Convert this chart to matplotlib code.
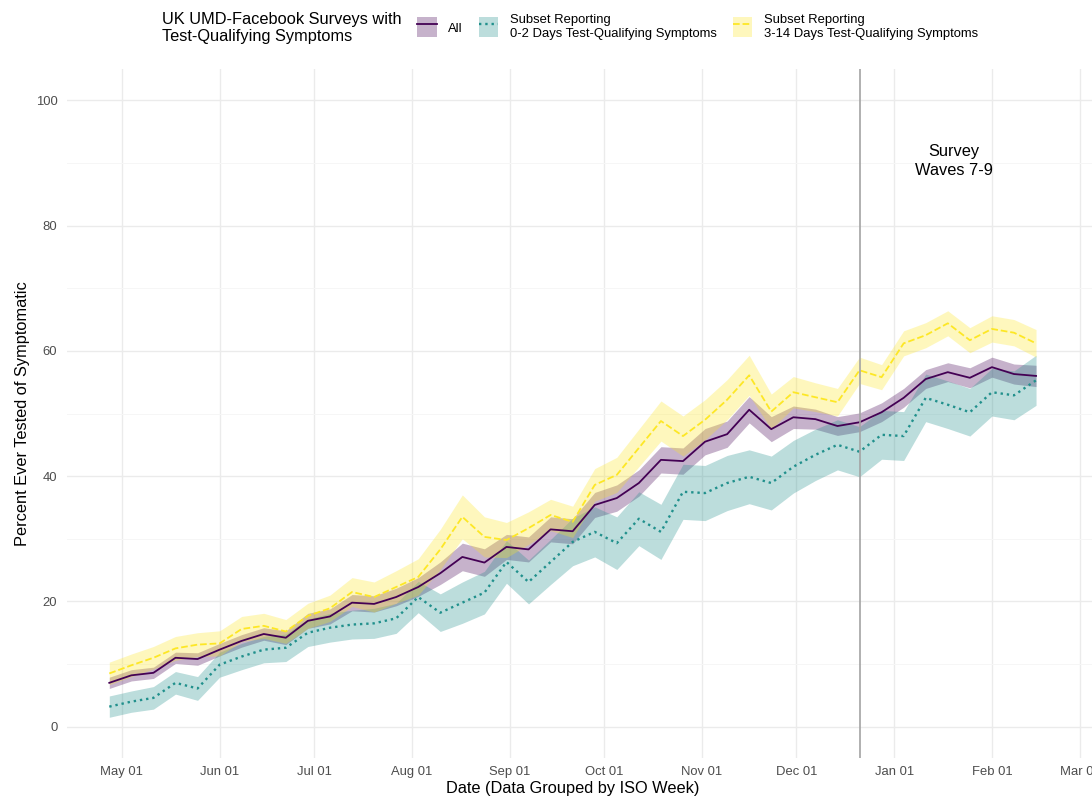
import pandas as pd
import matplotlib
matplotlib.use('Agg')
import matplotlib.pyplot as plt
import matplotlib.dates as mdates
from matplotlib.lines import Line2D
from matplotlib.patches import Patch
from matplotlib.ticker import MultipleLocator

plt.rcParams['font.family'] = ['Liberation Sans', 'DejaVu Sans']

# ISO weeks (Monday start), Apr 27 2020 -> Feb 15 2021
weeks = pd.date_range('2020-04-27', '2021-02-15', freq='7D')

# percent ever tested, all respondents
all_pct = [7.0, 8.2, 8.6, 11.0, 10.8, 12.3, 13.7, 14.8, 14.2, 16.9, 17.6,
           19.8, 19.6, 20.7, 22.3, 24.5, 27.1, 26.2, 28.7, 28.3, 31.5, 31.2,
           35.4, 36.5, 38.9, 42.6, 42.4, 45.5, 46.7, 50.6, 47.5, 49.4, 49.1,
           48.0, 48.6, 50.2, 52.5, 55.5, 56.6, 55.7, 57.4, 56.3, 56.0]
all_hw = [0.9, 0.9, 0.9, 0.9, 1.0, 1.0, 1.0, 1.0, 1.1, 1.2, 1.2, 1.3, 1.3,
          1.4, 1.5, 1.8, 2.2, 2.2, 2.0, 2.0, 2.0, 2.0, 2.0, 2.1, 2.1, 2.1,
          2.1, 2.1, 2.1, 2.1, 2.0, 1.8, 1.6, 1.5, 1.5, 1.5, 1.5, 1.5, 1.5,
          1.6, 1.6, 1.6, 1.7]

# subset with 0-2 days of symptoms
early_pct = [3.2, 4.0, 4.6, 7.0, 6.1, 9.9, 11.2, 12.3, 12.6, 15.0, 15.8,
             16.3, 16.5, 17.3, 20.7, 18.2, 19.8, 21.4, 26.3, 23.1, 26.3, 29.5,
             31.1, 29.3, 33.2, 31.1, 37.5, 37.3, 38.9, 39.9, 38.9, 41.5, 43.4,
             45.0, 43.9, 46.6, 46.4, 52.5, 51.4, 50.2, 53.4, 52.9, 55.3]
early_hw = [1.7, 1.7, 1.8, 1.8, 1.9, 2.0, 2.1, 2.1, 2.2, 2.2, 2.3, 2.3, 2.4,
            2.4, 2.5, 3.0, 3.3, 3.4, 3.4, 3.5, 3.6, 3.8, 4.0, 4.2, 4.3, 4.4,
            4.4, 4.4, 4.4, 4.3, 4.3, 4.2, 4.1, 4.0, 4.0, 3.9, 3.9, 3.8, 3.8,
            3.8, 3.8, 3.9, 4.0]

# subset with 3-14 days of symptoms
late_pct = [8.5, 9.8, 11.0, 12.5, 13.1, 13.3, 15.6, 16.1, 15.2, 17.7, 18.9,
            21.5, 20.7, 22.3, 23.9, 28.3, 33.5, 30.3, 29.8, 31.7, 33.8, 32.7,
            38.6, 40.2, 44.5, 48.8, 46.4, 49.0, 52.2, 56.1, 50.3, 53.4, 52.6,
            51.8, 56.9, 55.8, 61.2, 62.5, 64.4, 61.7, 63.5, 62.9, 61.2]
late_hw = [1.8, 1.8, 1.8, 1.9, 1.9, 2.0, 2.0, 2.0, 1.9, 2.0, 2.1, 2.3, 2.4,
           2.6, 2.9, 3.2, 3.5, 3.2, 2.8, 2.6, 2.5, 2.5, 2.6, 2.8, 3.0, 3.2,
           3.2, 3.2, 3.2, 3.2, 2.8, 2.5, 2.3, 2.2, 2.1, 2.0, 2.0, 2.0, 2.0,
           2.0, 2.1, 2.1, 2.2]

wave_start = pd.Timestamp('2020-12-21')

labels = ['All',
          'Subset Reporting\n0-2 Days Test-Qualifying Symptoms',
          'Subset Reporting\n3-14 Days Test-Qualifying Symptoms']
colors = ['#440154', '#21908C', '#FDE725']
styles = ['-', ':', '--']
widths = [1.3, 1.7, 1.3]
series = [(all_pct, all_hw), (early_pct, early_hw), (late_pct, late_hw)]

fig = plt.figure(figsize=(10.92, 8), dpi=100)
ax = fig.add_axes([67 / 1092, 1 - 758 / 800, 1 - 67 / 1092, (758 - 69) / 800])

# ribbons first, then the lines on top
for (vals, hw), c in zip(series, colors):
    lo = [v - h for v, h in zip(vals, hw)]
    hi = [v + h for v, h in zip(vals, hw)]
    ax.fill_between(weeks, lo, hi, color=c, alpha=0.3, lw=0)
for (vals, hw), c, ls, lw in zip(series, colors, styles, widths):
    ax.plot(weeks, vals, color=c, ls=ls, lw=lw)

ax.axvline(wave_start, color='#A3A3A3', lw=1.2)
ax.text(pd.Timestamp('2021-01-20'), 90.3, 'Survey\nWaves 7-9', ha='center',
        va='center', fontsize=11.8, linespacing=1.35, color='black')

ax.set_xlim(pd.Timestamp('2020-04-13 14:00'), pd.Timestamp('2021-03-04 18:00'))
ax.set_ylim(-5, 105)
ax.xaxis.set_major_locator(mdates.MonthLocator(bymonthday=1))
ax.xaxis.set_major_formatter(mdates.DateFormatter('%b %d'))
ax.yaxis.set_major_locator(MultipleLocator(20))
ax.yaxis.set_minor_locator(MultipleLocator(10))

ax.grid(which='major', color='#EBEBEB', lw=1.0)
ax.grid(which='minor', axis='y', color='#F6F6F6', lw=0.7)
ax.set_axisbelow(True)
for s in ax.spines.values():
    s.set_visible(False)
ax.tick_params(which='both', length=0, labelsize=9.4, labelcolor='#4D4D4D')
ax.tick_params(axis='y', pad=7)
ax.tick_params(axis='x', pad=6)

ax.set_xlabel('Date (Data Grouped by ISO Week)', fontsize=11.8)
ax.xaxis.set_label_coords(0.493, -0.033)
ax.set_ylabel('Percent Ever Tested of Symptomatic', fontsize=11.8)
ax.yaxis.set_label_coords(-0.036, 0.5)

handles = [(Patch(facecolor=c, alpha=0.3, lw=0), Line2D([], [], color=c, ls=ls, lw=lw))
           for c, ls, lw in zip(colors, styles, widths)]
fig.text(162 / 1092, 1 - 28 / 800, 'UK UMD-Facebook Surveys with\nTest-Qualifying Symptoms',
         ha='left', va='center', fontsize=11.8, linespacing=1.15)
fig.legend(handles, labels, ncol=3, loc='center left', bbox_to_anchor=(417 / 1092, 1 - 27 / 800),
           frameon=False, fontsize=9.4, handlelength=1.5, handleheight=2.0,
           handletextpad=0.9, columnspacing=1.2, borderpad=0, borderaxespad=0)

fig.savefig('out.png', dpi=100)
